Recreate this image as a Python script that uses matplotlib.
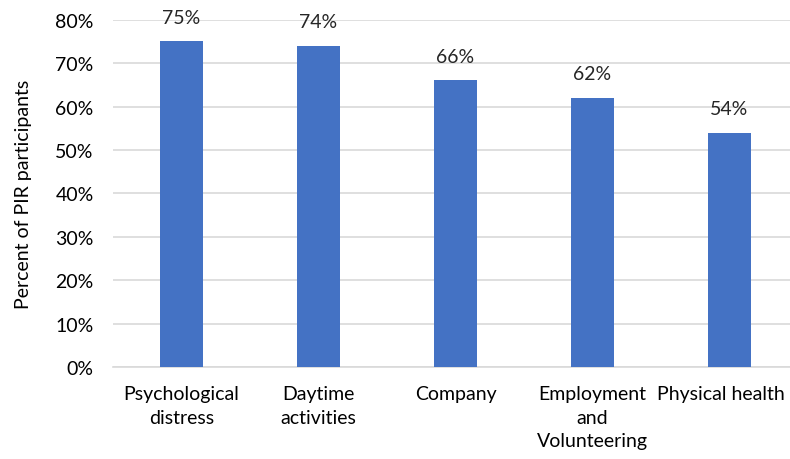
import matplotlib.pyplot as plt
import matplotlib.transforms as mtransforms
from matplotlib.ticker import PercentFormatter

categories = ["Psychological\ndistress", "Daytime\nactivities", "Company",
              "Employment\nand\nVolunteering", "Physical health"]
values = [75, 74, 66, 62, 54]
y_ticks = [0, 10, 20, 30, 40, 50, 60, 70, 80]

plt.rcParams['font.family'] = ['Lato', 'DejaVu Sans']

fig = plt.figure(figsize=(7.9, 4.6), dpi=100)
# the right end of the plot area runs slightly past the canvas, as in the original
ax = fig.add_axes([113 / 790, 0.2, 685 / 790, 0.755])

x = range(len(categories))
ax.bar(x, values, width=0.315, color='#4472C4', zorder=3)

# value labels above each bar
for xi, v in zip(x, values):
    ax.text(xi, v + 3.6, f"{v}%", ha='center', va='bottom', fontsize=14, color='#262626')

ax.set_xlim(-0.5, len(categories) - 0.5)
ax.set_ylim(0, 80)
ax.set_yticks(y_ticks)
ax.yaxis.set_major_formatter(PercentFormatter(decimals=0))
ax.set_xticks(list(x))
ax.set_xticklabels(categories, fontsize=14, color='#000000', va='top', linespacing=1.48)
ax.tick_params(axis='y', labelsize=14, length=0, pad=14)
ax.tick_params(axis='x', length=0, pad=13)
ax.grid(axis='y', color='#D9D9D9', linewidth=1.2, zorder=0)
for side in ['top', 'right', 'left']:
    ax.spines[side].set_visible(False)
ax.spines['bottom'].set_color('#D9D9D9')
ax.spines['bottom'].set_linewidth(1.2)

# last label is nudged left so it stays inside the picture
last = ax.get_xticklabels()[-1]
last.set_transform(last.get_transform() + mtransforms.ScaledTranslation(-9 / 100, 0, fig.dpi_scale_trans))

ax.set_ylabel("Percent of PIR participants", fontsize=14, labelpad=17)

fig.savefig("out.png", dpi=100)
